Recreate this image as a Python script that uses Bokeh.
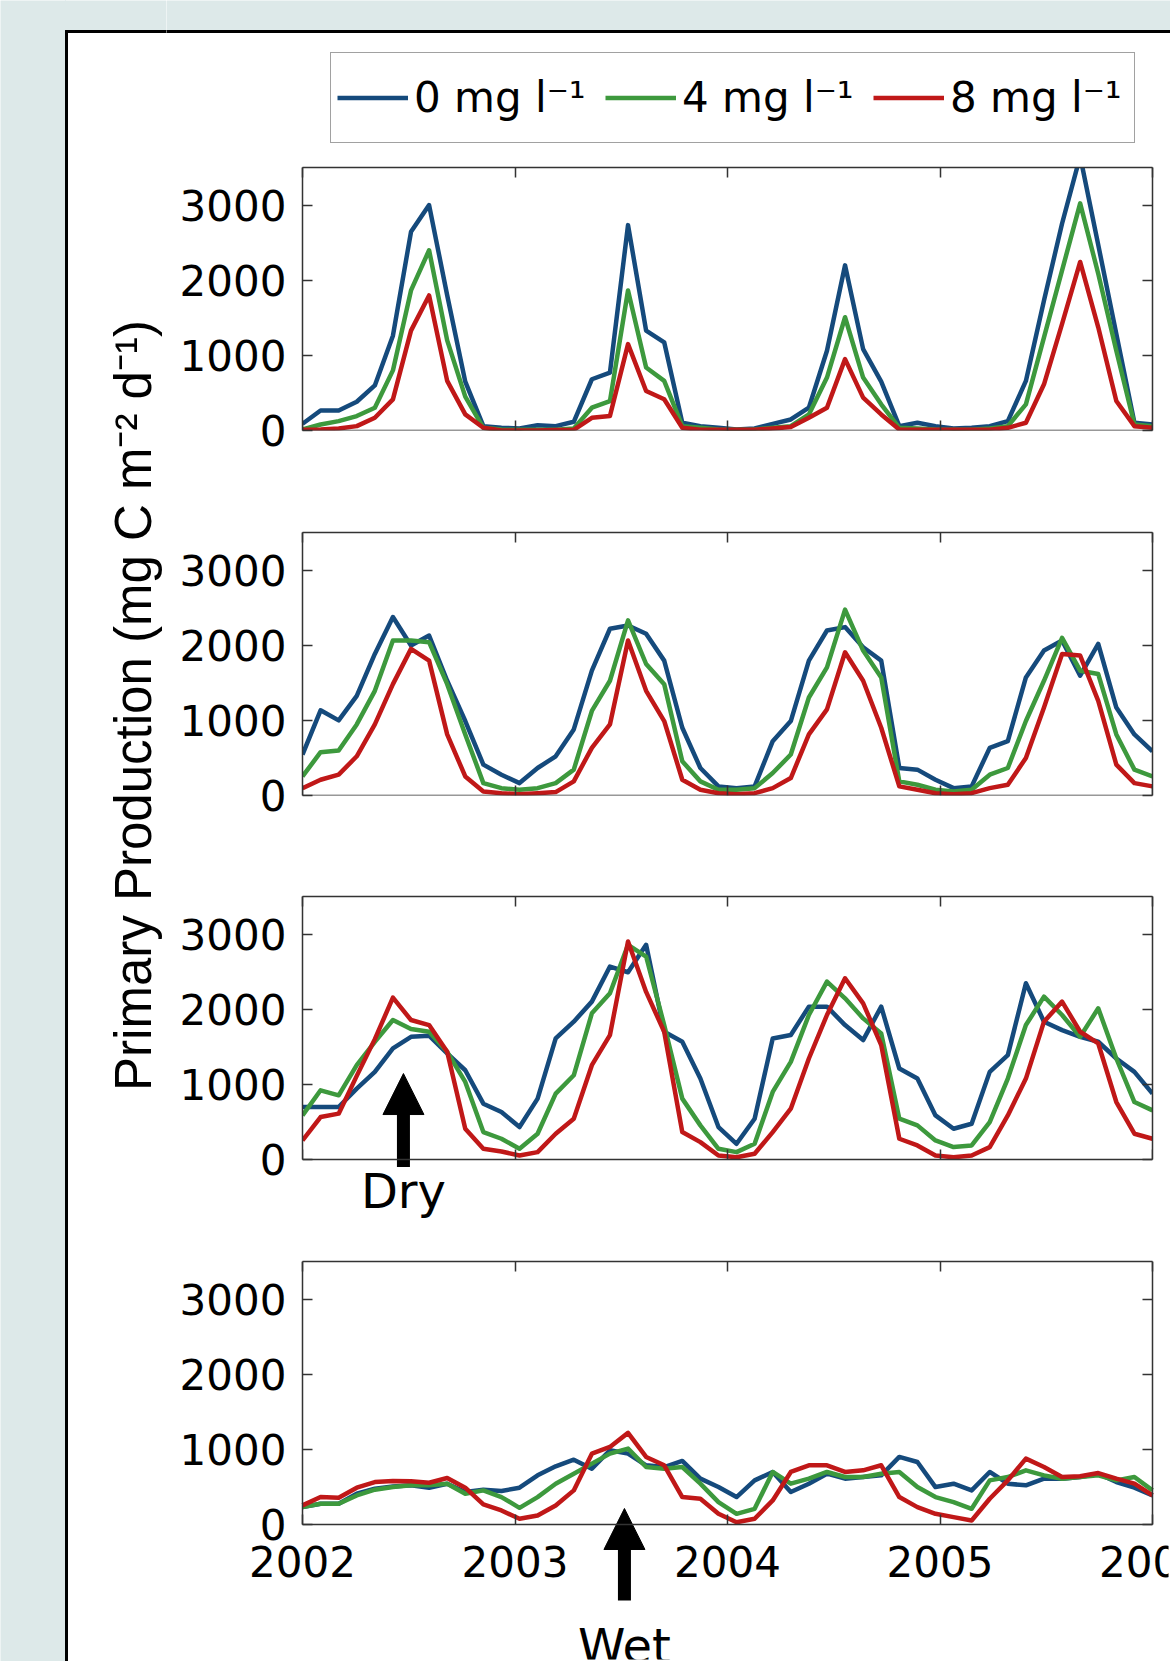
import numpy as np
from bokeh.plotting import figure
from bokeh.layouts import column, row
from bokeh.models import Range1d, FixedTicker, LinearAxis, Legend, LegendItem, Label
from bokeh.core.properties import value
from bokeh.embed import file_html
from bokeh.resources import INLINE

# ---------------- data ----------------
series_labels = ["0 mg l\u207b\u00b9", "4 mg l\u207b\u00b9", "8 mg l\u207b\u00b9"]
series_colors = ["#154a7c", "#3d993d", "#c01818"]
year_ticks = [2002, 2003, 2004, 2005, 2006]
value_ticks = [0, 1000, 2000, 3000]
y_label = "Primary Production (mg C m\u207b\u00b2 d\u207b\u00b9)"

# 48 monthly samples spanning 2002-2006
years = np.linspace(2002, 2006, 48)

p1_blue = [89, 267, 267, 383, 600, 1262, 2644, 3000, 1800, 650, 58, 36, 27, 71, 58, 116,
           682, 771, 2733, 1329, 1173, 103, 58, 36, 13, 27, 89, 147, 303, 1061, 2198, 1083,
           650, 58, 103, 58, 27, 36, 58, 125, 660, 1730, 2755, 3650, 2470, 1285, 103, 80]
p1_green = [13, 80, 125, 192, 303, 800, 1864, 2399, 1200, 450, 36, 13, 9, 9, 9, 27,
            303, 392, 1864, 838, 660, 58, 36, 13, 9, 13, 36, 58, 214, 704, 1507, 704,
            348, 36, 27, 13, 9, 9, 27, 58, 348, 1239, 2131, 3023, 2086, 1061, 80, 58]
p1_red = [9, 13, 27, 58, 169, 415, 1329, 1797, 660, 214, 36, 0, 0, 0, 5, 9,
          169, 192, 1150, 526, 415, 36, 9, 9, 9, 9, 27, 45, 169, 303, 950, 437,
          214, 13, 9, 9, 9, 9, 9, 36, 103, 615, 1418, 2243, 1373, 392, 58, 36]

p2_blue = [545, 1134, 1000, 1326, 1884, 2375, 1996, 2129, 1527, 991, 411, 277, 165, 366, 522, 879,
           1661, 2219, 2263, 2152, 1795, 902, 366, 121, 98, 121, 723, 991, 1795, 2196, 2241, 1973,
           1795, 366, 344, 210, 98, 121, 634, 723, 1571, 1929, 2063, 1594, 2018, 1170, 813, 589]
p2_green = [254, 576, 598, 946, 1393, 2063, 2063, 2040, 1482, 813, 165, 98, 76, 98, 165, 344,
            1125, 1527, 2330, 1750, 1482, 455, 188, 76, 76, 98, 299, 545, 1304, 1705, 2473, 1929,
            1571, 188, 143, 76, 54, 76, 277, 366, 991, 1527, 2098, 1661, 1616, 813, 344, 254]
p2_red = [98, 210, 277, 522, 946, 1482, 1951, 1795, 813, 254, 54, 31, 18, 31, 45, 188,
          634, 946, 2063, 1393, 991, 210, 76, 31, 18, 31, 98, 232, 813, 1147, 1906, 1527,
          902, 121, 76, 31, 18, 31, 98, 143, 500, 1170, 1884, 1862, 1259, 411, 165, 121]

p3_blue = [699, 699, 699, 944, 1166, 1478, 1633, 1647, 1411, 1188, 743, 632, 432, 810, 1611, 1834,
           2101, 2568, 2492, 2857, 1700, 1567, 1077, 432, 209, 543, 1611, 1656, 2034, 2034, 1789, 1589,
           2034, 1211, 1077, 587, 409, 476, 1166, 1389, 2345, 1834, 1722, 1633, 1567, 1344, 1166, 877]
p3_green = [587, 921, 854, 1255, 1567, 1856, 1736, 1700, 1433, 1032, 365, 276, 142, 343, 877, 1121,
            1945, 2212, 2857, 2701, 1789, 810, 454, 142, 98, 209, 899, 1300, 1923, 2368, 2145, 1878,
            1678, 543, 454, 254, 165, 187, 498, 1077, 1789, 2167, 1923, 1633, 2012, 1344, 765, 654]
p3_red = [254, 565, 610, 1113, 1602, 2154, 1856, 1789, 1433, 410, 142, 107, 53, 98, 343, 543,
          1255, 1655, 2902, 2230, 1700, 365, 231, 53, 31, 76, 365, 676, 1344, 1923, 2412, 2078,
          1522, 276, 187, 53, 31, 53, 165, 587, 1077, 1834, 2101, 1700, 1544, 765, 343, 276]

p4_blue = [231, 276, 276, 409, 476, 507, 521, 490, 543, 432, 463, 445, 490, 654, 774, 863,
           743, 988, 943, 788, 765, 846, 610, 498, 365, 587, 699, 432, 543, 676, 610, 632,
           654, 899, 832, 498, 543, 454, 699, 543, 521, 610, 610, 632, 676, 565, 490, 387]
p4_green = [231, 276, 276, 387, 463, 498, 521, 521, 543, 409, 454, 365, 222, 365, 543, 676,
            810, 943, 1010, 765, 743, 765, 543, 298, 142, 209, 699, 543, 610, 699, 632, 632,
            676, 699, 498, 365, 298, 209, 587, 632, 721, 654, 610, 632, 654, 587, 632, 454]
p4_red = [254, 365, 356, 490, 565, 579, 574, 556, 619, 490, 267, 187, 76, 120, 254, 454,
          943, 1032, 1219, 899, 788, 365, 343, 142, 31, 76, 320, 699, 788, 788, 699, 721,
          788, 365, 231, 142, 98, 53, 343, 587, 877, 765, 632, 641, 685, 610, 543, 387]

# annotation anchors (data units of the panel they belong to)
dry_x, dry_tip, dry_tail, dry_text_y = 2002.475, 1144, -100, -419
wet_x, wet_tip, wet_tail, wet_text_y = 2003.515, 213, -1011, -1617
year_label_y = -492

# ---------------- style / layout ----------------
FONT = "DejaVu Sans"
YLAB_FONT = "Liberation Sans"
BG = "#dde9e9"
AX = "#333333"
W, H = 1170, 1661
LEFT_W = 166
RIGHT_W = W - LEFT_W          # 1004
BL, BR = 136, 18              # panel side borders
FRAME_W = RIGHT_W - BL - BR   # 850
FRAME_H = 263
Y_MAX = 3500
S = FRAME_H / Y_MAX           # px per data unit
PPY = FRAME_W / 4.0           # px per year
TICK_FS = "42px"
TICK_STANDOFF = 16
TOP_GRAY = 30


def noalign(p):
    try:
        p.frame_align = False
    except Exception:
        pass
    return p


def make_axis(side, labels, bounds, fixed=None):
    ax = LinearAxis(ticker=FixedTicker(ticks=year_ticks if side in ("above", "below") else value_ticks),
                    bounds=bounds,
                    major_tick_in=10, major_tick_out=0, minor_tick_in=0, minor_tick_out=0,
                    minor_tick_line_color=None,
                    axis_line_color=AX, axis_line_width=1.5,
                    major_tick_line_color=AX, major_tick_line_width=1.5)
    if fixed is not None:
        ax.fixed_location = fixed
    if labels:
        ax.major_label_text_font = FONT
        ax.major_label_text_font_size = TICK_FS
        ax.major_label_text_color = "black"
        ax.major_label_standoff = TICK_STANDOFF
    else:
        ax.major_label_text_font_size = "1px"
        ax.major_label_text_color = None
        ax.major_label_standoff = 0
    return ax


def panel(height, b_top, b_bottom, blue, green, red, open_frame=False):
    """open_frame: the frame also covers the left border and right margin, so that
    tick labels, arrow and text below the zero line are not cut."""
    frame_h = height - b_top - b_bottom
    y_start = Y_MAX - frame_h / S
    if open_frame:
        bl, br = 2, 2
    else:
        bl, br = BL, BR
    x_start = year_ticks[0] - (BL - bl) / PPY
    x_end = year_ticks[-1] + (BR - br) / PPY
    p = figure(width=RIGHT_W, height=height,
               x_range=Range1d(x_start, x_end), y_range=Range1d(y_start, Y_MAX),
               output_backend="svg", toolbar_location=None,
               x_axis_location=None, y_axis_location=None,
               min_border_left=bl, min_border_right=br,
               min_border_top=b_top, min_border_bottom=b_bottom,
               background_fill_color="white", border_fill_color="white",
               outline_line_color=None)
    noalign(p)
    p.grid.visible = False
    xb = (year_ticks[0], year_ticks[-1])
    yb = (0, Y_MAX)
    p.add_layout(make_axis("left", not open_frame, yb, year_ticks[0] if open_frame else None), "left")
    p.add_layout(make_axis("right", False, yb, year_ticks[-1] if open_frame else None), "right")
    p.add_layout(make_axis("above", False, xb), "above")
    p.add_layout(make_axis("below", False, xb, 0 if y_start < 0 else None), "below")
    if open_frame:
        # tick labels drawn inside the widened frame
        p.text(x=[year_ticks[0] - TICK_STANDOFF / PPY] * len(value_ticks), y=value_ticks,
               text=[str(v) for v in value_ticks], text_align="right", text_baseline="middle",
               text_font=value(FONT), text_font_size=value(TICK_FS), text_color="black")
        p.text(x=year_ticks, y=[year_label_y] * len(year_ticks), text=[str(t) for t in year_ticks],
               text_align="center", text_baseline="middle",
               text_font=value(FONT), text_font_size=value(TICK_FS), text_color="black")
    for vals, col in zip([blue, green, red], series_colors):
        p.line(years, vals, line_color=col, line_width=4.5, line_join="round")
    return p


def draw_arrow(f, x, tip, tail):
    hl = 41 / S
    hw = 20.5 / PPY
    f.segment(x0=[x], y0=[tail], x1=[x], y1=[tip - hl + 2 / S],
              line_color="black", line_width=13, line_cap="butt")
    f.patch(x=[x - hw, x + hw, x], y=[tip - hl, tip - hl, tip],
            fill_color="black", line_color="black", line_width=1)


# header: gray strip, panel border and the legend
G0_H = 163
g0 = figure(width=RIGHT_W, height=G0_H, x_range=Range1d(0, RIGHT_W), y_range=Range1d(0, G0_H),
            min_border=0, x_axis_location=None, y_axis_location=None,
            output_backend="svg", toolbar_location=None,
            background_fill_color="white", border_fill_color="white", outline_line_color=None)
noalign(g0)
g0.grid.visible = False
g0.quad(left=-2, right=RIGHT_W + 2, bottom=G0_H - TOP_GRAY, top=G0_H + 2, color=BG)
g0.quad(left=-2, right=RIGHT_W + 2, bottom=G0_H - TOP_GRAY - 2, top=G0_H - TOP_GRAY, color="black")
samples = [g0.line(x=[-20, -10], y=[-20, -20], line_color=c, line_width=4.5) for c in series_colors]
legend = Legend(items=[LegendItem(label=lab, renderers=[r]) for lab, r in zip(series_labels, samples)],
                orientation="horizontal", location=(164, 20),
                padding=6, spacing=13, glyph_width=71, glyph_height=77,
                label_width=178, label_height=77, label_standoff=6,
                label_text_font=FONT, label_text_font_size=TICK_FS, label_text_color="black",
                border_line_color="#444444", border_line_width=1.5,
                background_fill_color="white", background_fill_alpha=1.0, margin=0)
g0.add_layout(legend)

p1 = panel(318, 4, 51, p1_blue, p1_green, p1_red)
p2 = panel(367, 51, 53, p2_blue, p2_green, p2_red)
p3 = panel(409, 48, 2, p3_blue, p3_green, p3_red)
p4 = panel(404, 4, 2, p4_blue, p4_green, p4_red, open_frame=True)

draw_arrow(p3, dry_x, dry_tip, dry_tail)
draw_arrow(p4, wet_x, wet_tip, wet_tail)
p3.text(x=[dry_x], y=[dry_text_y], text=["Dry"], text_align="center", text_baseline="middle",
        text_font=value(FONT), text_font_size=value("48px"), text_color="black")
p4.text(x=[wet_x], y=[wet_text_y], text=["Wet"], text_align="center", text_baseline="middle",
        text_font=value(FONT), text_font_size=value("48px"), text_color="black")

# left strip: gray margin, panel border, shared y label
left = figure(width=LEFT_W, height=H, x_range=Range1d(0, LEFT_W), y_range=Range1d(0, H),
              min_border=0, x_axis_location=None, y_axis_location=None,
              output_backend="svg", toolbar_location=None,
              background_fill_color="white", border_fill_color="white", outline_line_color=None)
noalign(left)
left.grid.visible = False
left.quad(left=-2, right=65, bottom=-2, top=H + 2, color=BG)
left.quad(left=65, right=LEFT_W + 2, bottom=H - TOP_GRAY, top=H + 2, color=BG)
left.quad(left=65, right=67, bottom=-2, top=H - TOP_GRAY, color="black")
left.quad(left=65, right=LEFT_W + 2, bottom=H - TOP_GRAY - 2, top=H - TOP_GRAY, color="black")
left.add_layout(Label(x=133, y=H - 705, text=y_label, angle=np.pi / 2,
                      text_align="center", text_baseline="middle",
                      text_font=YLAB_FONT, text_font_size="51px", text_color="black"))

layout = row(left, column(g0, p1, p2, p3, p4, spacing=0), spacing=0)

open("out.html", "w").write(file_html(layout, INLINE))
